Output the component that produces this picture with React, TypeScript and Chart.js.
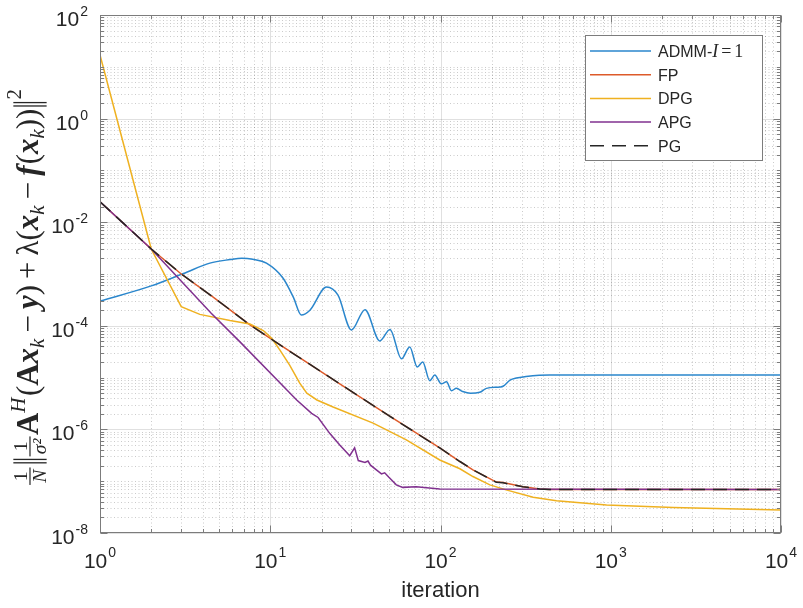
import React, { useEffect, useRef } from "react";
import { Chart, registerables } from "chart.js";

Chart.register(...registerables);

const CANVAS_W = 803;
const CANVAS_H = 608;

// ---------- data (iteration, value) ----------
const admmIter = [1, 2, 3.09, 4.42, 5.8, 6.8, 7.9, 9.5, 11.9, 13.7, 15.2, 17.1, 21.4, 25, 30, 36, 44, 50.5, 59, 66, 73, 78.6, 86.5, 92.6, 101, 108.5, 116, 124, 135, 150, 170, 186, 224, 233, 256, 279, 318, 380, 437, 10000];
const admmVal = [3.0e-4, 5.9e-4, 1.02e-3, 1.62e-3, 1.9e-3, 2.02e-3, 1.93e-3, 1.62e-3, 8.3e-4, 3.5e-4, 1.62e-4, 2.0e-4, 5.6e-4, 3.9e-4, 8.3e-5, 2.05e-4, 5.1e-5, 8.5e-5, 2.3e-5, 3.9e-5, 1.6e-5, 2.0e-5, 8.7e-6, 1.12e-5, 7.6e-6, 8.3e-6, 5.6e-6, 6.2e-6, 5.4e-6, 5.0e-6, 5.2e-6, 6.2e-6, 6.6e-6, 6.8e-6, 8.9e-6, 9.8e-6, 1.05e-5, 1.11e-5, 1.12e-5, 1.12e-5];

const fpIter = [1, 2, 3, 4.6, 7.6, 11.9, 25.6, 50, 99, 130, 155, 213, 233, 305, 382, 437, 10000];
const fpVal = [2.49e-2, 3.04e-3, 1.0e-3, 3.63e-4, 1.04e-4, 3.9e-5, 7.6e-6, 1.82e-6, 4.4e-7, 2.4e-7, 1.66e-7, 9.6e-8, 9.4e-8, 7.8e-8, 7.1e-8, 6.9e-8, 6.9e-8];

const dpgIter = [1, 2, 3, 3.86, 5.8, 7.6, 9.1, 10.2, 11.4, 13.0, 14.9, 16.4, 18.8, 23.4, 40.2, 63, 99, 130, 155, 195, 243, 350, 480, 945, 2330, 10000];
const dpgVal = [16.9, 3.04e-3, 2.34e-4, 1.66e-4, 1.26e-4, 1.08e-4, 8.1e-5, 5.75e-5, 3.39e-5, 1.74e-5, 7.8e-6, 5.0e-6, 3.7e-6, 2.7e-6, 1.32e-6, 6.3e-7, 2.57e-7, 1.74e-7, 1.23e-7, 8.5e-8, 6.8e-8, 4.9e-8, 4.2e-8, 3.47e-8, 3.1e-8, 2.78e-8];

const apgIter = [1, 2, 4.5, 6.64, 14.3, 17.5, 19.1, 22.4, 25.6, 29.3, 31.3, 32.9, 36, 37.5, 38.8, 42, 45, 47, 49.6, 55, 60, 72, 99, 10000];
const apgVal = [2.49e-2, 3.04e-3, 1.74e-4, 4.9e-5, 3.7e-6, 2.04e-6, 1.7e-6, 8.3e-7, 5.0e-7, 3.1e-7, 4.4e-7, 2.5e-7, 2.3e-7, 2.45e-7, 2.04e-7, 1.66e-7, 1.38e-7, 1.45e-7, 1.2e-7, 8.5e-8, 7.6e-8, 7.8e-8, 7.1e-8, 6.9e-8];

const pgIter = [1, 2, 3, 4.6, 7.6, 11.9, 25.6, 50, 99, 130, 155, 213, 233, 305, 382, 437, 10000];
const pgVal = [2.49e-2, 3.04e-3, 1.0e-3, 3.63e-4, 1.04e-4, 3.9e-5, 7.6e-6, 1.82e-6, 4.4e-7, 2.4e-7, 1.66e-7, 9.5e-8, 9.3e-8, 7.8e-8, 7.1e-8, 6.9e-8, 6.9e-8];

const seriesLabels = ["ADMM-I=1", "FP", "DPG", "APG", "PG"];
const xTickExps = [0, 1, 2, 3, 4];
const yTickExps = [2, 0, -2, -4, -6, -8];
const xTitle = "iteration";

// ---------- styles ----------
const SANS = '"Liberation Sans", Arial, Helvetica, sans-serif';
const SERIF = '"Liberation Serif", "DejaVu Serif", serif';
const TEXT = "#262626";
const AXIS = "#7c7c7c";
const GRID_MAJOR = "rgba(38,38,38,0.14)";
const GRID_MINOR = "rgba(38,38,38,0.24)";
const C_BLUE = "#2a86cc";
const C_ORANGE = "#dd5a2a";
const C_YELLOW = "#efb120";
const C_PURPLE = "#80318f";
const C_BLACK = "#262626";

function pts(xs: number[], ys: number[]) {
  return xs.map((x, i) => ({ x, y: ys[i] }));
}

function minorX(): number[] {
  const out: number[] = [];
  for (let d = 0; d < 4; d++) for (let m = 2; m <= 9; m++) out.push(m * Math.pow(10, d));
  return out;
}
function minorY(): number[] {
  const out: number[] = [];
  for (let d = -8; d < 2; d++)
    for (let m = 1; m <= 9; m++) {
      if (m === 1 && yTickExps.includes(d)) continue;
      out.push(m * Math.pow(10, d));
    }
  return out;
}

function seg(ctx: CanvasRenderingContext2D, x1: number, y1: number, x2: number, y2: number) {
  ctx.beginPath();
  ctx.moveTo(x1, y1);
  ctx.lineTo(x2, y2);
  ctx.stroke();
}

// lays out (and optionally draws) the y-axis title along +x, baseline at y=0
function layoutYTitle(ctx: CanvasRenderingContext2D, S: number, x0: number, draw: boolean): number {
  let x = x0;
  const sm = S * 0.68;
  const fr = S * 0.64;
  const font = (style: string, size: number) => `${style} ${size}px ${SERIF}`;
  const txt = (t: string, style: string, size: number, dy = 0) => {
    ctx.font = font(style, size);
    const w = ctx.measureText(t).width;
    if (draw) ctx.fillText(t, x, dy);
    x += w;
  };
  const gap = (g: number) => {
    x += g * S;
  };
  const frac = (num: string, ns: string, den: string, ds: string) => {
    ctx.font = font(ns, fr);
    const wn = ctx.measureText(num).width;
    ctx.font = font(ds, fr);
    const wd = ctx.measureText(den).width;
    const w = Math.max(wn, wd) + S * 0.14;
    if (draw) {
      const axis = -S * 0.26;
      ctx.font = font(ns, fr);
      ctx.fillText(num, x + (w - wn) / 2, axis - S * 0.09);
      ctx.font = font(ds, fr);
      ctx.fillText(den, x + (w - wd) / 2, axis + S * 0.09 + fr * 0.66);
      ctx.fillRect(x, axis - 0.6, w, 1.2);
    }
    x += w;
  };
  const norm = () => {
    const w = S * 0.3;
    if (draw) {
      ctx.fillRect(x + S * 0.07, -S * 0.8, 1.3, S * 1.08);
      ctx.fillRect(x + S * 0.18, -S * 0.8, 1.3, S * 1.08);
    }
    x += w;
  };
  frac("1", "", "N", "italic");
  gap(0.06);
  norm();
  frac("1", "", "σ²", "italic");
  gap(0.05);
  txt("A", "bold", S);
  txt("H", "italic", sm, -S * 0.42);
  gap(0.05);
  txt("(", "", S);
  txt("A", "bold", S);
  txt("x", "bold italic", S);
  txt("k", "italic", sm, S * 0.2);
  gap(0.2);
  txt("−", "", S);
  gap(0.2);
  txt("y", "bold italic", S);
  txt(")", "", S);
  gap(0.2);
  txt("+", "", S);
  gap(0.2);
  txt("λ", "", S);
  txt("(", "", S);
  txt("x", "bold italic", S);
  txt("k", "italic", sm, S * 0.2);
  gap(0.2);
  txt("−", "", S);
  gap(0.2);
  txt("f", "bold italic", S);
  gap(0.04);
  txt("(", "", S);
  txt("x", "bold italic", S);
  txt("k", "italic", sm, S * 0.2);
  txt(")", "", S);
  txt(")", "", S);
  norm();
  txt("2", "", sm, -S * 0.55);
  return x - x0;
}

function drawYTitle(ctx: CanvasRenderingContext2D, baseX: number, cy: number, length: number) {
  ctx.save();
  const w20 = layoutYTitle(ctx, 20, 0, false);
  const S = (20 * length) / w20;
  const w = layoutYTitle(ctx, S, 0, false);
  ctx.translate(baseX, cy);
  ctx.rotate(-Math.PI / 2);
  ctx.fillStyle = TEXT;
  ctx.textBaseline = "alphabetic";
  ctx.textAlign = "left";
  layoutYTitle(ctx, S, -w / 2, true);
  ctx.restore();
}

const matlabAxes = {
  id: "matlabAxes",
  beforeDatasetsDraw(chart: any) {
    const { ctx, chartArea: a } = chart;
    const xs = chart.scales.x;
    const ys = chart.scales.y;
    ctx.save();
    ctx.fillStyle = "#ffffff";
    ctx.fillRect(a.left, a.top, a.right - a.left, a.bottom - a.top);
    ctx.lineWidth = 1;
    ctx.strokeStyle = GRID_MINOR;
    ctx.setLineDash([1, 2.5]);
    minorX().forEach((v) => {
      const p = Math.round(xs.getPixelForValue(v)) + 0.5;
      seg(ctx, p, a.top, p, a.bottom);
    });
    minorY().forEach((v) => {
      const p = Math.round(ys.getPixelForValue(v)) + 0.5;
      seg(ctx, a.left, p, a.right, p);
    });
    ctx.setLineDash([]);
    ctx.strokeStyle = GRID_MAJOR;
    xTickExps.forEach((e) => {
      const p = Math.round(xs.getPixelForValue(Math.pow(10, e))) + 0.5;
      seg(ctx, p, a.top, p, a.bottom);
    });
    yTickExps.forEach((e) => {
      const p = Math.round(ys.getPixelForValue(Math.pow(10, e))) + 0.5;
      seg(ctx, a.left, p, a.right, p);
    });
    ctx.restore();
  },
  afterDatasetsDraw(chart: any) {
    const { ctx, chartArea: a } = chart;
    const xs = chart.scales.x;
    const ys = chart.scales.y;
    ctx.save();
    ctx.setLineDash([]);
    ctx.lineWidth = 1;
    ctx.strokeStyle = AXIS;
    const L = Math.round(a.left) + 0.5;
    const R = Math.round(a.right) - 0.5;
    const T = Math.round(a.top) + 0.5;
    const B = Math.round(a.bottom) - 0.5;
    ctx.strokeRect(L, T, R - L, B - T);

    const major = 7;
    const minor = 3.5;
    minorX().forEach((v) => {
      const p = Math.round(xs.getPixelForValue(v)) + 0.5;
      seg(ctx, p, B, p, B - minor);
      seg(ctx, p, T, p, T + minor);
    });
    xTickExps.forEach((e) => {
      const p = Math.round(xs.getPixelForValue(Math.pow(10, e))) + 0.5;
      seg(ctx, p, B, p, B - major);
      seg(ctx, p, T, p, T + major);
    });
    minorY().forEach((v) => {
      const p = Math.round(ys.getPixelForValue(v)) + 0.5;
      seg(ctx, L, p, L + minor, p);
      seg(ctx, R, p, R - minor, p);
    });
    yTickExps.forEach((e) => {
      const p = Math.round(ys.getPixelForValue(Math.pow(10, e))) + 0.5;
      seg(ctx, L, p, L + major, p);
      seg(ctx, R, p, R - major, p);
    });

    // tick labels
    ctx.fillStyle = TEXT;
    ctx.textBaseline = "alphabetic";
    ctx.textAlign = "left";
    const baseFont = `21px ${SANS}`;
    const expFont = `14px ${SANS}`;
    xTickExps.forEach((e) => {
      const p = xs.getPixelForValue(Math.pow(10, e));
      const es = e < 0 ? "-" + Math.abs(e) : String(e);
      ctx.font = baseFont;
      const w1 = ctx.measureText("10").width;
      ctx.font = expFont;
      const w2 = ctx.measureText(es).width;
      const x0 = p - (w1 + 1 + w2) / 2;
      ctx.font = baseFont;
      ctx.fillText("10", x0, a.bottom + 35);
      ctx.font = expFont;
      ctx.fillText(es, x0 + w1 + 1, a.bottom + 24);
    });
    yTickExps.forEach((e) => {
      const p = ys.getPixelForValue(Math.pow(10, e));
      const es = e < 0 ? "-" + Math.abs(e) : String(e);
      ctx.font = baseFont;
      const w1 = ctx.measureText("10").width;
      ctx.font = expFont;
      const w2 = ctx.measureText(es).width;
      const right = a.left - 12;
      ctx.font = expFont;
      ctx.fillText(es, right - w2, p + 1);
      ctx.font = baseFont;
      ctx.fillText("10", right - w2 - 1 - w1, p + 11);
    });

    // x title
    ctx.font = `22px ${SANS}`;
    ctx.textAlign = "center";
    ctx.fillText(xTitle, (a.left + a.right) / 2, a.bottom + 64);
    ctx.textAlign = "left";

    // y title
    drawYTitle(ctx, 38, 287, 396);

    // legend
    const LG = { x: 585, y: 35, w: 177, h: 125, l1: 590, l2: 651, tx: 658, y0: 51, dy: 23.7 };
    ctx.fillStyle = "#ffffff";
    ctx.fillRect(LG.x, LG.y, LG.w, LG.h);
    ctx.strokeStyle = AXIS;
    ctx.lineWidth = 1;
    ctx.strokeRect(LG.x + 0.5, LG.y + 0.5, LG.w, LG.h);
    chart.data.datasets.forEach((ds: any, i: number) => {
      const y = LG.y0 + i * LG.dy;
      ctx.strokeStyle = ds.borderColor;
      ctx.lineWidth = ds.borderWidth;
      ctx.setLineDash(ds.borderDash || []);
      seg(ctx, LG.l1, y, LG.l2, y);
      ctx.setLineDash([]);
      ctx.fillStyle = TEXT;
      const label: string = ds.label;
      const dash = label.indexOf("-");
      const base = dash >= 0 ? label.slice(0, dash + 1) : label;
      ctx.font = `16px ${SANS}`;
      ctx.fillText(base, LG.tx, y + 6);
      if (dash >= 0) {
        let x = LG.tx + ctx.measureText(base).width;
        const math = label.slice(dash + 1);
        const parts = math.split("=");
        ctx.font = `italic 18px ${SERIF}`;
        ctx.fillText(parts[0], x, y + 6);
        x += ctx.measureText(parts[0]).width + 3;
        ctx.font = `18px ${SERIF}`;
        ctx.fillText("=", x, y + 6);
        x += ctx.measureText("=").width + 3;
        ctx.fillText(parts[1], x, y + 6);
      }
    });
    ctx.restore();
  },
};

export default function App() {
  const ref = useRef<HTMLCanvasElement>(null);
  useEffect(() => {
    const canvas = ref.current!;
    const chart = new Chart(canvas, {
      type: "line",
      data: {
        datasets: [
          { label: seriesLabels[0], data: pts(admmIter, admmVal), borderColor: C_BLUE, borderWidth: 1.5, cubicInterpolationMode: "monotone", order: 5 },
          { label: seriesLabels[1], data: pts(fpIter, fpVal), borderColor: C_ORANGE, borderWidth: 1.5, order: 4 },
          { label: seriesLabels[2], data: pts(dpgIter, dpgVal), borderColor: C_YELLOW, borderWidth: 1.5, order: 3 },
          { label: seriesLabels[3], data: pts(apgIter, apgVal), borderColor: C_PURPLE, borderWidth: 1.5, order: 2 },
          { label: seriesLabels[4], data: pts(pgIter, pgVal), borderColor: C_BLACK, borderWidth: 1.5, borderDash: [14, 8], order: 1 },
        ] as any,
      },
      options: {
        responsive: false,
        animation: false,
        devicePixelRatio: 1,
        layout: { padding: { left: 100, top: 15, right: 22, bottom: 75 } },
        scales: {
          x: { type: "logarithmic", min: 1, max: 10000, display: false },
          y: { type: "logarithmic", min: 1e-8, max: 100, display: false },
        },
        elements: { point: { radius: 0 }, line: { tension: 0 } },
        plugins: { legend: { display: false }, tooltip: { enabled: false } },
      } as any,
      plugins: [matlabAxes as any],
    });
    return () => chart.destroy();
  }, []);
  return (
    <div style={{ position: "absolute", left: 0, top: 0, width: CANVAS_W, height: CANVAS_H, background: "#ffffff" }}>
      <canvas ref={ref} width={CANVAS_W} height={CANVAS_H} style={{ display: "block", width: CANVAS_W, height: CANVAS_H }} />
    </div>
  );
}
